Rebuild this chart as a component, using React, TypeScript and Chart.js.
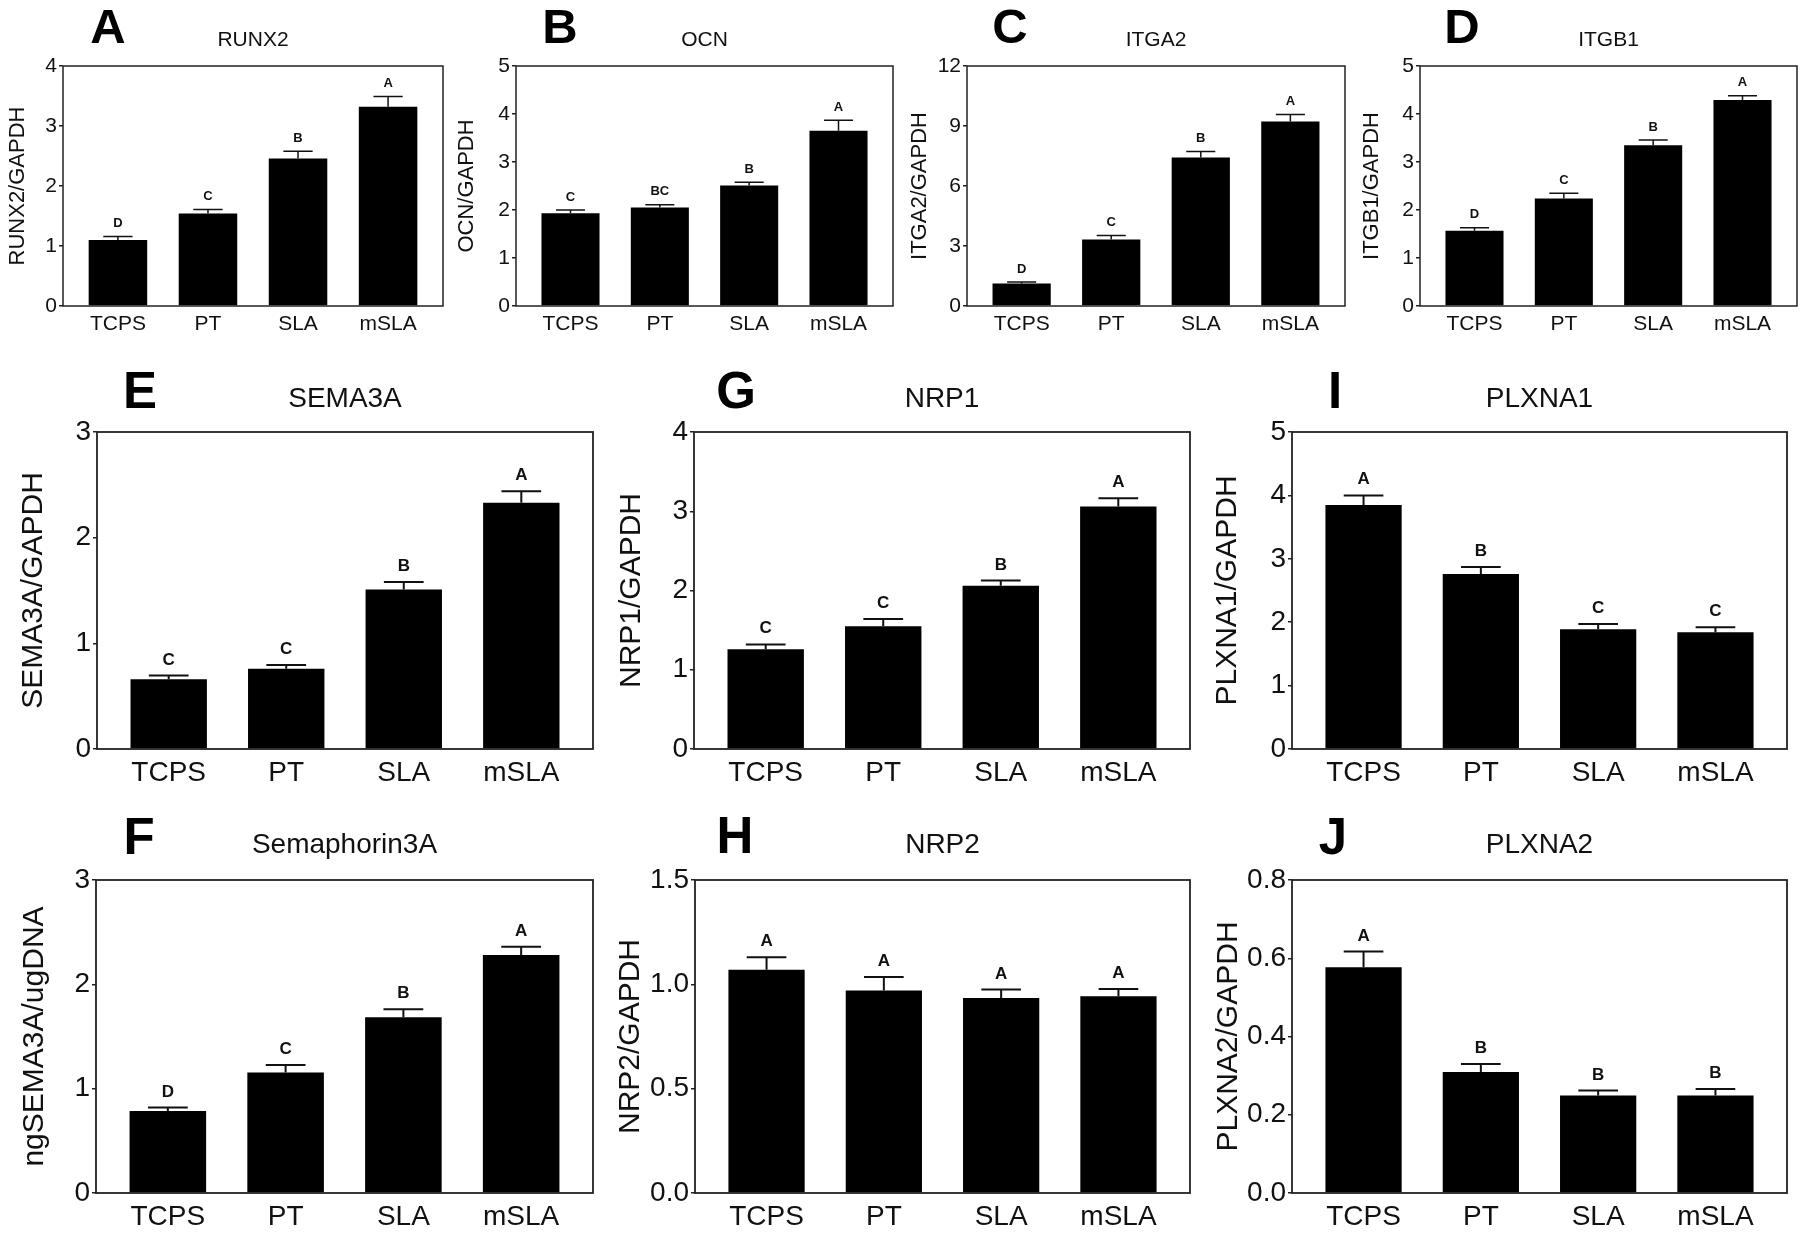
import React, { useEffect, useRef } from "react";
import { Chart, registerables } from "chart.js";

Chart.register(...registerables);

const FONT = '"Liberation Sans", Arial, Helvetica, sans-serif';
Chart.defaults.font.family = FONT;

// ---------- data ----------
const categories = ["TCPS", "PT", "SLA", "mSLA"];

const runx2Mean = [1.1, 1.54, 2.46, 3.32];
const runx2Sem = [0.06, 0.07, 0.12, 0.17];
const runx2Sig = ["D", "C", "B", "A"];

const ocnMean = [1.93, 2.05, 2.51, 3.65];
const ocnSem = [0.07, 0.06, 0.07, 0.22];
const ocnSig = ["C", "BC", "B", "A"];

const itga2Mean = [1.12, 3.33, 7.43, 9.22];
const itga2Sem = [0.08, 0.2, 0.29, 0.35];
const itga2Sig = ["D", "C", "B", "A"];

const itgb1Mean = [1.57, 2.24, 3.35, 4.29];
const itgb1Sem = [0.06, 0.11, 0.11, 0.09];
const itgb1Sig = ["D", "C", "B", "A"];

const sema3aMean = [0.66, 0.76, 1.51, 2.33];
const sema3aSem = [0.035, 0.035, 0.07, 0.11];
const sema3aSig = ["C", "C", "B", "A"];

const semaProtMean = [0.785, 1.156, 1.685, 2.28];
const semaProtSem = [0.035, 0.07, 0.077, 0.08];
const semaProtSig = ["D", "C", "B", "A"];

const nrp1Mean = [1.26, 1.55, 2.06, 3.06];
const nrp1Sem = [0.06, 0.09, 0.065, 0.105];
const nrp1Sig = ["C", "C", "B", "A"];

const nrp2Mean = [1.07, 0.97, 0.935, 0.943];
const nrp2Sem = [0.06, 0.065, 0.04, 0.035];
const nrp2Sig = ["A", "A", "A", "A"];

const plxna1Mean = [3.85, 2.76, 1.89, 1.84];
const plxna1Sem = [0.15, 0.11, 0.08, 0.08];
const plxna1Sig = ["A", "B", "C", "C"];

const plxna2Mean = [0.577, 0.309, 0.249, 0.249];
const plxna2Sem = [0.04, 0.021, 0.013, 0.017];
const plxna2Sig = ["A", "B", "B", "B"];

// ---------- styles ----------
type Style = {
  tickFont: number; xFont: number; yLabelFont: number; titleFont: number;
  letterFont: number; sigFont: number; sigOffset: number; errLW: number;
  capRatio: number; xPad: number; boxLW: number;
};
const small: Style = {
  tickFont: 21, xFont: 21, yLabelFont: 22, titleFont: 21, letterFont: 49,
  sigFont: 13, sigOffset: 14, errLW: 1.5, capRatio: 0.5, xPad: 6, boxLW: 1.5,
};
const big: Style = {
  tickFont: 28, xFont: 28, yLabelFont: 30, titleFont: 28, letterFont: 51,
  sigFont: 17, sigOffset: 17, errLW: 2, capRatio: 0.52, xPad: 7, boxLW: 1.8,
};

type Panel = {
  letter: string; title: string; yLabel: string;
  mean: number[]; sem: number[]; sig: string[];
  yMax: number; yStep: number; dec: number;
  box: [number, number, number, number];
  plot: [number, number, number, number];
  letterXY: [number, number]; titleY: number; yLabelX: number;
  st: Style;
};

const panels: Panel[] = [
  { letter: "A", title: "RUNX2", yLabel: "RUNX2/GAPDH", mean: runx2Mean, sem: runx2Sem, sig: runx2Sig,
    yMax: 4, yStep: 1, dec: 0, box: [0, 0, 450, 345], plot: [63, 66, 443, 306],
    letterXY: [108, 25], titleY: 38, yLabelX: 16, st: small },
  { letter: "B", title: "OCN", yLabel: "OCN/GAPDH", mean: ocnMean, sem: ocnSem, sig: ocnSig,
    yMax: 5, yStep: 1, dec: 0, box: [450, 0, 450, 345], plot: [516, 66, 893, 306],
    letterXY: [560, 25], titleY: 38, yLabelX: 465, st: small },
  { letter: "C", title: "ITGA2", yLabel: "ITGA2/GAPDH", mean: itga2Mean, sem: itga2Sem, sig: itga2Sig,
    yMax: 12, yStep: 3, dec: 0, box: [900, 0, 450, 345], plot: [967, 66, 1345, 306],
    letterXY: [1010, 25], titleY: 38, yLabelX: 918, st: small },
  { letter: "D", title: "ITGB1", yLabel: "ITGB1/GAPDH", mean: itgb1Mean, sem: itgb1Sem, sig: itgb1Sig,
    yMax: 5, yStep: 1, dec: 0, box: [1350, 0, 450, 345], plot: [1420, 66, 1797, 306],
    letterXY: [1462, 25], titleY: 38, yLabelX: 1370, st: small },
  { letter: "E", title: "SEMA3A", yLabel: "SEMA3A/GAPDH", mean: sema3aMean, sem: sema3aSem, sig: sema3aSig,
    yMax: 3, yStep: 1, dec: 0, box: [0, 350, 600, 450], plot: [97, 432, 593, 749],
    letterXY: [140, 390], titleY: 397, yLabelX: 31, st: big },
  { letter: "G", title: "NRP1", yLabel: "NRP1/GAPDH", mean: nrp1Mean, sem: nrp1Sem, sig: nrp1Sig,
    yMax: 4, yStep: 1, dec: 0, box: [600, 350, 600, 450], plot: [694, 432, 1190, 749],
    letterXY: [736, 390], titleY: 397, yLabelX: 629, st: big },
  { letter: "I", title: "PLXNA1", yLabel: "PLXNA1/GAPDH", mean: plxna1Mean, sem: plxna1Sem, sig: plxna1Sig,
    yMax: 5, yStep: 1, dec: 0, box: [1200, 350, 600, 450], plot: [1292, 432, 1787, 749],
    letterXY: [1335, 390], titleY: 397, yLabelX: 1225, st: big },
  { letter: "F", title: "Semaphorin3A", yLabel: "ngSEMA3A/ugDNA", mean: semaProtMean, sem: semaProtSem, sig: semaProtSig,
    yMax: 3, yStep: 1, dec: 0, box: [0, 800, 600, 433], plot: [96, 880, 593, 1193],
    letterXY: [139, 836], titleY: 843, yLabelX: 32, st: big },
  { letter: "H", title: "NRP2", yLabel: "NRP2/GAPDH", mean: nrp2Mean, sem: nrp2Sem, sig: nrp2Sig,
    yMax: 1.5, yStep: 0.5, dec: 1, box: [600, 800, 600, 433], plot: [695, 880, 1190, 1193],
    letterXY: [735, 835], titleY: 843, yLabelX: 628, st: big },
  { letter: "J", title: "PLXNA2", yLabel: "PLXNA2/GAPDH", mean: plxna2Mean, sem: plxna2Sem, sig: plxna2Sig,
    yMax: 0.8, yStep: 0.2, dec: 1, box: [1200, 800, 600, 433], plot: [1292, 880, 1787, 1193],
    letterXY: [1333, 836], titleY: 843, yLabelX: 1226, st: big },
];

const INK = "#111";
const CAP = 0.716;

function decorPlugin(p: Panel) {
  const st = p.st;
  return {
    id: "decor" + p.letter,
    afterDraw(chart: any) {
      const { ctx, chartArea: ca, scales } = chart;
      const xs = scales.x;
      const ys = scales.y;
      const ox = p.box[0];
      const oy = p.box[1];
      ctx.save();
      // frame
      ctx.strokeStyle = "#222";
      ctx.lineWidth = st.boxLW;
      ctx.strokeRect(ca.left, ca.top, ca.right - ca.left, ca.bottom - ca.top);
      // error bars + significance letters
      const meta = chart.getDatasetMeta(0);
      p.mean.forEach((m, i) => {
        const x = xs.getPixelForValue(i);
        const yb = ys.getPixelForValue(m);
        const yt = ys.getPixelForValue(m + p.sem[i]);
        const bw = meta.data[i] ? meta.data[i].width : 60;
        const cw = bw * st.capRatio;
        ctx.strokeStyle = INK;
        ctx.lineWidth = st.errLW;
        ctx.beginPath();
        ctx.moveTo(x, yb);
        ctx.lineTo(x, yt);
        ctx.moveTo(x - cw / 2, yt);
        ctx.lineTo(x + cw / 2, yt);
        ctx.stroke();
        ctx.fillStyle = INK;
        ctx.font = `bold ${st.sigFont}px ${FONT}`;
        ctx.textAlign = "center";
        ctx.textBaseline = "alphabetic";
        ctx.fillText(p.sig[i], x, yt - st.sigOffset + (st.sigFont * CAP) / 2);
      });
      // panel letter
      ctx.fillStyle = "#000";
      ctx.font = `bold ${st.letterFont}px ${FONT}`;
      ctx.textAlign = "center";
      ctx.textBaseline = "alphabetic";
      ctx.fillText(p.letter, p.letterXY[0] - ox, p.letterXY[1] - oy + (st.letterFont * CAP) / 2);
      // title
      ctx.fillStyle = INK;
      ctx.font = `${st.titleFont}px ${FONT}`;
      ctx.fillText(p.title, (ca.left + ca.right) / 2, p.titleY - oy + (st.titleFont * CAP) / 2);
      // y-axis label
      ctx.translate(p.yLabelX - ox, (ca.top + ca.bottom) / 2);
      ctx.rotate(-Math.PI / 2);
      ctx.font = `${st.yLabelFont}px ${FONT}`;
      ctx.fillText(p.yLabel, 0, (st.yLabelFont * CAP) / 2);
      ctx.restore();
    },
  };
}

function PanelChart({ p }: { p: Panel }) {
  const ref = useRef<HTMLCanvasElement | null>(null);
  useEffect(() => {
    if (!ref.current) return;
    const [bx, by, bw, bh] = p.box;
    const [l, t, r, b] = p.plot;
    const yAxisW = l - bx;
    const padTop = t - by;
    const padRight = bx + bw - r;
    const xAxisH = by + bh - b;
    const st = p.st;
    const chart = new Chart(ref.current, {
      type: "bar",
      data: {
        datasets: [
          {
            data: p.mean.map((v, i) => ({ x: i, y: v })),
            backgroundColor: "#000",
            borderWidth: 0,
            categoryPercentage: 1,
            barPercentage: 0.65,
          } as any,
        ],
      },
      options: {
        animation: false,
        responsive: false,
        maintainAspectRatio: false,
        events: [],
        layout: { padding: { top: padTop, right: padRight, left: 0, bottom: 0 } },
        plugins: {
          legend: { display: false },
          tooltip: { enabled: false },
          title: { display: false },
        },
        scales: {
          x: {
            type: "linear",
            offset: false,
            min: -0.61,
            max: 3.61,
            grid: { display: false, drawTicks: false, offset: false },
            border: { display: false },
            afterBuildTicks: (s: any) => {
              s.ticks = categories.map((_, i) => ({ value: i }));
            },
            afterFit: (s: any) => {
              s.height = xAxisH;
            },
            ticks: {
              autoSkip: false,
              maxRotation: 0,
              minRotation: 0,
              padding: st.xPad,
              color: INK,
              font: { size: st.xFont },
              callback: (v: any) => categories[Math.round(Number(v))] ?? "",
            },
          },
          y: {
            type: "linear",
            min: 0,
            max: p.yMax,
            grid: {
              display: true,
              drawOnChartArea: false,
              drawTicks: true,
              tickLength: 4,
              color: "#222",
              lineWidth: 1.5,
            },
            border: { display: false },
            afterFit: (s: any) => {
              s.width = yAxisW;
            },
            ticks: {
              stepSize: p.yStep,
              padding: 2,
              color: INK,
              font: { size: st.tickFont },
              callback: (v: any) => Number(v).toFixed(p.dec),
            },
          },
        },
      } as any,
      plugins: [decorPlugin(p)],
    });
    return () => chart.destroy();
  }, [p]);
  const [bx, by, bw, bh] = p.box;
  return (
    <canvas
      ref={ref}
      width={bw}
      height={bh}
      style={{ position: "absolute", left: bx, top: by, width: bw, height: bh }}
    />
  );
}

export default function App() {
  return (
    <div
      style={{
        position: "absolute",
        left: 0,
        top: 0,
        width: 1800,
        height: 1233,
        background: "#fff",
        overflow: "hidden",
      }}
    >
      {panels.map((p) => (
        <PanelChart key={p.letter} p={p} />
      ))}
    </div>
  );
}
